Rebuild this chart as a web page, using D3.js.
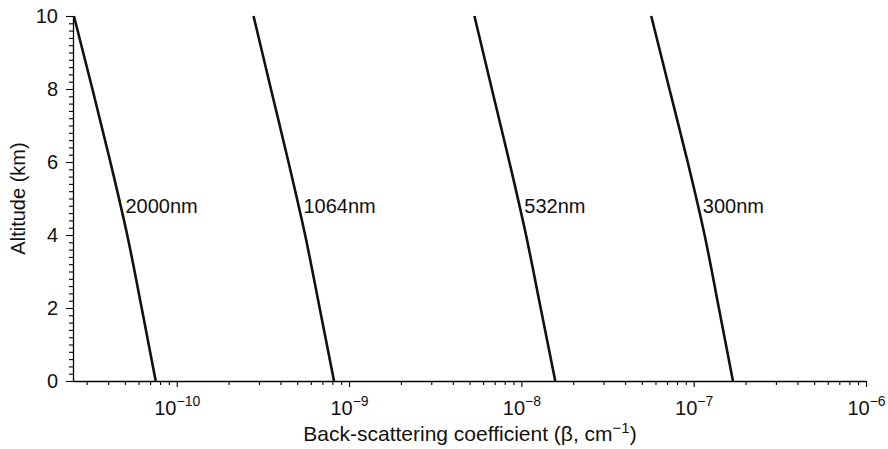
<!DOCTYPE html>
<html>
  <head>
  <title>Back-scattering</title>
  <style>
    body, html { margin: 0; padding: 0; background: #fff; }
    text { font-family: "Liberation Sans", Arial, sans-serif; fill: #111; }
  </style>
  </head>
  <body>

  <svg id="svg" width="888" height="449"></svg>

  <script src="https://d3js.org/d3.v7.min.js"></script>
  <script>
    // altitude (km) and back-scattering coefficient (cm^-1)
    const altitudes = [0, 2, 4, 6, 8, 10]
    const beta2000 = [7.55e-11, 6.26e-11, 5.16e-11, 4.12e-11, 3.24e-11, 2.53e-11]
    const beta1064 = [8.18e-10, 6.75e-10, 5.56e-10, 4.45e-10, 3.52e-10, 2.79e-10]
    const beta532 = [1.573e-8, 1.294e-8, 1.064e-8, 8.52e-9, 6.74e-9, 5.34e-9]
    const beta300 = [1.69e-7, 1.40e-7, 1.157e-7, 9.23e-8, 7.23e-8, 5.67e-8]
    const seriesNames = ['2000nm', '1064nm', '532nm', '300nm']
    const seriesValues = [beta2000, beta1064, beta532, beta300]
    const labelAltitude = 4.8

    const xTickExponents = [-10, -9, -8, -7, -6]
    const yTickValues = [0, 2, 4, 6, 8, 10]

    const margin = { top: 16, right: 22, bottom: 68, left: 73 }
    const width = 888 - margin.left - margin.right
    const height = 449 - margin.top - margin.bottom

    const x = d3.scaleLog()
      .domain([2.5e-11, 1e-6])
      .range([margin.left, margin.left + width])
    const y = d3.scaleLinear()
      .domain([0, 10])
      .range([margin.top + height, margin.top])

    const svg = d3.select('#svg')

    // minor ticks first, majors on top
    const majors = xTickExponents.map(e => Math.pow(10, e))
    const minorX = x.ticks().filter(v => !majors.some(m => Math.abs(v - m) / m < 1e-6))
    svg.append('g')
      .attr('transform', `translate(0, ${margin.top + height})`)
      .call(d3.axisBottom(x).tickValues(minorX).tickSize(4).tickFormat(''))
      .call(g => g.select('.domain').remove())

    const minorY = y.ticks(50).filter(v => !yTickValues.includes(v))
    svg.append('g')
      .attr('transform', `translate(${margin.left}, 0)`)
      .call(d3.axisLeft(y).tickValues(minorY).tickSize(4).tickFormat(''))
      .call(g => g.select('.domain').remove())

    const xAxis = svg.append('g')
      .attr('transform', `translate(0, ${margin.top + height})`)
      .call(d3.axisBottom(x).tickValues(majors).tickSize(6).tickSizeOuter(0).tickFormat(''))
    xAxis.selectAll('.tick').each(function (d, i) {
      const t = d3.select(this).append('text')
        .attr('y', 34)
        .attr('text-anchor', 'middle')
        .style('font-size', '20px')
        .attr('fill', '#111')
      t.append('tspan').text('10')
      t.append('tspan')
        .attr('dy', -9)
        .style('font-size', '14px')
        .text('\u2212' + Math.abs(xTickExponents[i]))
    })

    const yAxis = svg.append('g')
      .attr('transform', `translate(${margin.left}, 0)`)
      .call(d3.axisLeft(y).tickValues(yTickValues).tickSize(7).tickSizeOuter(0))
    yAxis.selectAll('.tick text')
      .attr('x', -15)
      .style('font-size', '20px')
      .attr('fill', '#111')

    svg.selectAll('.domain').attr('stroke-width', 1.3)
    svg.selectAll('.tick line').attr('stroke-width', 1.1)

    // curves
    const line = d3.line()
      .x(d => x(d[1]))
      .y(d => y(d[0]))
      .curve(d3.curveMonotoneY)

    seriesValues.forEach((vals, i) => {
      const pts = altitudes.map((a, j) => [a, vals[j]])
      svg.append('path')
        .datum(pts)
        .attr('d', line)
        .attr('fill', 'none')
        .attr('stroke', '#111')
        .attr('stroke-width', 2.6)

      // label next to the curve at labelAltitude
      const logAt = d3.scaleLinear().domain(altitudes).range(vals.map(v => Math.log10(v)))
      const bx = Math.pow(10, logAt(labelAltitude))
      svg.append('text')
        .attr('x', x(bx) + 5)
        .attr('y', y(labelAltitude))
        .attr('dy', '0.36em')
        .style('font-size', '20px')
        .text(seriesNames[i])
    })

    // axis titles
    const xt = svg.append('text')
      .attr('x', 470)
      .attr('y', 441)
      .attr('text-anchor', 'middle')
      .style('font-size', '21px')
    xt.append('tspan').text('Back-scattering coefficient (\u03b2, cm')
    xt.append('tspan').attr('dy', -8).style('font-size', '15px').text('\u22121')
    xt.append('tspan').attr('dy', 8).text(')')

    svg.append('text')
      .attr('transform', `translate(25, ${margin.top + height / 2}) rotate(-90)`)
      .attr('text-anchor', 'middle')
      .style('font-size', '20px')
      .text('Altitude (km)')
  </script>
  </body>
</html>
